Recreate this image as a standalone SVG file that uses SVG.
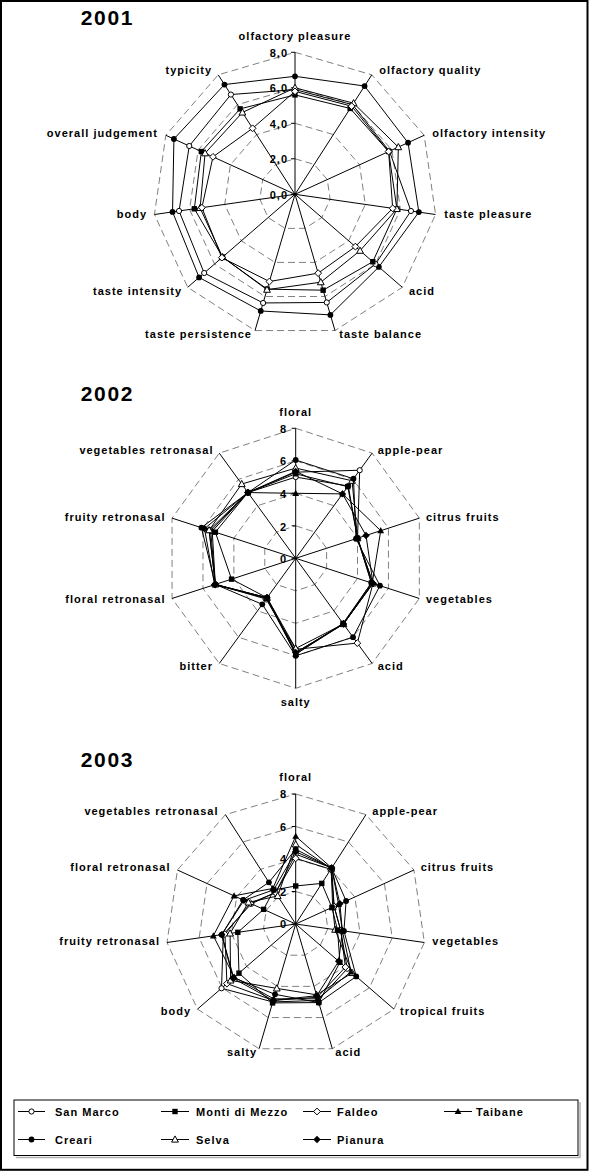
<svg xmlns="http://www.w3.org/2000/svg" xmlns:xlink="http://www.w3.org/1999/xlink" width="589" height="1171" viewBox="0 0 589 1171">
<style>
.lb{font-family:"Liberation Sans",Arial,sans-serif;font-weight:bold;font-size:11px;letter-spacing:1px;fill:#000}
.ti{font-family:"Liberation Sans",Arial,sans-serif;font-weight:bold;font-size:21px;letter-spacing:1.7px;fill:#000}
.e{text-anchor:end}
.m{text-anchor:middle}
.g{fill:none;stroke:#808080;stroke-width:1;stroke-dasharray:7,4}
.ax{fill:none;stroke:#000;stroke-width:1}
.s{fill:none;stroke:#000;stroke-width:1;stroke-linejoin:miter}
</style>
<defs>
<circle id="oc" r="2.6" fill="#fff" stroke="#000" stroke-width="1"/>
<circle id="fc" r="2.9" fill="#000"/>
<rect id="fs" x="-2.7" y="-2.7" width="5.4" height="5.4" fill="#000"/>
<polygon id="od" points="0,-3.4 3.4,0 0,3.4 -3.4,0" fill="#fff" stroke="#000" stroke-width="1"/>
<polygon id="fd" points="0,-3.7 3.7,0 0,3.7 -3.7,0" fill="#000"/>
<polygon id="ft" points="0,-3.6 3.4,2.6 -3.4,2.6" fill="#000"/>
<polygon id="ot" points="0,-3.6 3.4,2.6 -3.4,2.6" fill="#fff" stroke="#000" stroke-width="1"/>
</defs>
<rect x="0" y="0" width="589" height="1171" fill="#fff"/>
<rect id="frame" x="1" y="1" width="586.5" height="1168.8" fill="none" stroke="#000" stroke-width="2"/>

<!-- ===== 2001 ===== -->
<g id="chart2001">
<text class="ti" x="80.7" y="25">2001</text>
<g transform="translate(295,194.3)">
<polygon class="g" points="0,-142 76.77,-119.46 129.16,-58.99 140.55,20.21 107.31,93 40,136.25 -40,136.25 -107.31,93 -140.55,20.21 -129.16,-58.99 -76.77,-119.46"/>
<polygon class="g" points="0,-106.5 57.57,-89.6 96.87,-44.24 105.41,15.15 80.48,69.75 30,102.19 -30,102.19 -80.48,69.75 -105.41,15.15 -96.87,-44.24 -57.57,-89.6"/>
<polygon class="g" points="0,-71 38.38,-59.73 64.58,-29.49 70.28,10.1 53.65,46.5 20,68.12 -20,68.12 -53.65,46.5 -70.28,10.1 -64.58,-29.49 -38.38,-59.73"/>
<polygon class="g" points="0,-35.5 19.19,-29.87 32.29,-14.75 35.14,5.05 26.83,23.25 10,34.06 -10,34.06 -26.83,23.25 -35.14,5.05 -32.29,-14.75 -19.19,-29.87"/>
<path class="ax" d="M0,0V-142M0,0L76.77,-119.46M0,0L129.16,-58.99M0,0L140.55,20.21M0,0L107.31,93M0,0L40,136.25M0,0L-40,136.25M0,0L-107.31,93M0,0L-140.55,20.21M0,0L-129.16,-58.99M0,0L-76.77,-119.46M-4,-142H0M-4,-106.5H0M-4,-71H0M-4,-35.5H0M-4,0H0"/>
<g id="s2001-creari">
<polygon class="s" points="0,-118 69.57,-108.27 113.02,-51.61 123.86,17.81 83.84,72.65 35.4,120.58 -34.25,116.67 -95.91,83.11 -122.46,17.61 -121.09,-55.3 -70.53,-109.76"/>
<use href="#fc" x="0" y="-118"/><use href="#fc" x="69.57" y="-108.27"/><use href="#fc" x="113.02" y="-51.61"/><use href="#fc" x="123.86" y="17.81"/><use href="#fc" x="83.84" y="72.65"/><use href="#fc" x="35.4" y="120.58"/><use href="#fc" x="-34.25" y="116.67"/><use href="#fc" x="-95.91" y="83.11"/><use href="#fc" x="-122.46" y="17.61"/><use href="#fc" x="-121.09" y="-55.3"/><use href="#fc" x="-70.53" y="-109.76"/>
</g>
<g id="s2001-sanmarco">
<polygon class="s" points="0,-104.7 57.57,-89.6 94.45,-43.13 115.95,16.67 80.48,69.75 31.75,108.14 -31.9,108.66 -90.81,78.7 -115.95,16.67 -105.75,-48.29 -64.1,-99.75"/>
<use href="#oc" x="0" y="-104.7"/><use href="#oc" x="57.57" y="-89.6"/><use href="#oc" x="94.45" y="-43.13"/><use href="#oc" x="115.95" y="16.67"/><use href="#oc" x="80.48" y="69.75"/><use href="#oc" x="31.75" y="108.14"/><use href="#oc" x="-31.9" y="108.66"/><use href="#oc" x="-90.81" y="78.7"/><use href="#oc" x="-115.95" y="16.67"/><use href="#oc" x="-105.75" y="-48.29"/><use href="#oc" x="-64.1" y="-99.75"/>
</g>
<g id="s2001-monti">
<polygon class="s" points="0,-99.4 55.17,-85.86 93.64,-42.77 101.9,14.65 77.8,67.42 28.15,95.88 -27.85,94.87 -72.43,62.77 -100.67,14.47 -93.64,-42.77 -54.89,-85.42"/>
<use href="#fs" x="0" y="-99.4"/><use href="#fs" x="55.17" y="-85.86"/><use href="#fs" x="93.64" y="-42.77"/><use href="#fs" x="101.9" y="14.65"/><use href="#fs" x="77.8" y="67.42"/><use href="#fs" x="28.15" y="95.88"/><use href="#fs" x="-27.85" y="94.87"/><use href="#fs" x="-72.43" y="62.77"/><use href="#fs" x="-100.67" y="14.47"/><use href="#fs" x="-93.64" y="-42.77"/><use href="#fs" x="-54.89" y="-85.42"/>
</g>
<g id="s2001-selva">
<polygon class="s" points="0,-106.5 58.54,-91.1 103.33,-47.19 101.9,14.65 65.06,56.38 25.8,87.88 -28,95.37 -72.43,62.77 -94.87,13.64 -89.93,-41.07 -52.58,-81.83"/>
<use href="#ot" x="0" y="-106.5"/><use href="#ot" x="58.54" y="-91.1"/><use href="#ot" x="103.33" y="-47.19"/><use href="#ot" x="101.9" y="14.65"/><use href="#ot" x="65.06" y="56.38"/><use href="#ot" x="25.8" y="87.88"/><use href="#ot" x="-28" y="95.37"/><use href="#ot" x="-72.43" y="62.77"/><use href="#ot" x="-94.87" y="13.64"/><use href="#ot" x="-89.93" y="-41.07"/><use href="#ot" x="-52.58" y="-81.83"/>
</g>
<g id="s2001-faldeo">
<polygon class="s" points="0,-102.95 56.62,-88.11 93.64,-42.77 97.68,14.04 60.37,52.31 23.15,78.85 -25.6,87.2 -73.11,63.35 -93.12,13.39 -82.02,-37.46 -42.42,-66.01"/>
<use href="#od" x="0" y="-102.95"/><use href="#od" x="56.62" y="-88.11"/><use href="#od" x="93.64" y="-42.77"/><use href="#od" x="97.68" y="14.04"/><use href="#od" x="60.37" y="52.31"/><use href="#od" x="23.15" y="78.85"/><use href="#od" x="-25.6" y="87.2"/><use href="#od" x="-73.11" y="63.35"/><use href="#od" x="-93.12" y="13.39"/><use href="#od" x="-82.02" y="-37.46"/><use href="#od" x="-42.42" y="-66.01"/>
</g>
</g>
<text class="lb e" x="288" y="56.7">8,0</text>
<text class="lb e" x="288" y="92">6,0</text>
<text class="lb e" x="288" y="127.5">4,0</text>
<text class="lb e" x="288" y="163">2,0</text>
<text class="lb e" x="288" y="198.5">0,0</text>
<text class="lb m" x="295" y="39.5">olfactory pleasure</text>
<text class="lb e" x="212" y="74">typicity</text>
<text class="lb" x="379.3" y="74">olfactory quality</text>
<text class="lb e" x="158" y="137">overall judgement</text>
<text class="lb" x="432.3" y="137">olfactory intensity</text>
<text class="lb e" x="147" y="217.5">body</text>
<text class="lb" x="444.3" y="217.5">taste pleasure</text>
<text class="lb e" x="182" y="294.5">taste intensity</text>
<text class="lb" x="409" y="294.5">acid</text>
<text class="lb e" x="252" y="338">taste persistence</text>
<text class="lb" x="339.3" y="338">taste balance</text>
</g>

<!-- ===== 2002 ===== -->
<g id="chart2002">
<text class="ti" x="80.7" y="400.5">2002</text>
<g transform="translate(295.7,558.3)">
<polygon class="g" points="0,-130 76.41,-105.17 123.64,-40.17 123.64,40.17 76.41,105.17 0,130 -76.41,105.17 -123.64,40.17 -123.64,-40.17 -76.41,-105.17"/>
<polygon class="g" points="0,-97.5 57.31,-78.88 92.73,-30.13 92.73,30.13 57.31,78.88 0,97.5 -57.31,78.88 -92.73,30.13 -92.73,-30.13 -57.31,-78.88"/>
<polygon class="g" points="0,-65 38.21,-52.59 61.82,-20.09 61.82,20.09 38.21,52.59 0,65 -38.21,52.59 -61.82,20.09 -61.82,-20.09 -38.21,-52.59"/>
<polygon class="g" points="0,-32.5 19.1,-26.29 30.91,-10.04 30.91,10.04 19.1,26.29 0,32.5 -19.1,26.29 -30.91,10.04 -30.91,-10.04 -19.1,-26.29"/>
<path class="ax" d="M0,0V-130M0,0L76.41,-105.17M0,0L123.64,-40.17M0,0L123.64,40.17M0,0L76.41,105.17M0,0V130M0,0L-76.41,105.17M0,0L-123.64,40.17M0,0L-123.64,-40.17M0,0L-76.41,-105.17M-4,-130H0M-4,-97.5H0M-4,-65H0M-4,-32.5H0M-4,0H0"/>
<g id="s2002-sanmarco">
<polygon class="s" points="0,-81.25 52.54,-72.31 61.82,-20.09 75.74,24.61 47.76,65.73 0,94.25 -28.66,39.44 -80.37,26.11 -86.55,-28.12 -47.76,-65.73"/>
<use href="#oc" x="0" y="-81.25"/><use href="#oc" x="52.54" y="-72.31"/><use href="#oc" x="61.82" y="-20.09"/><use href="#oc" x="75.74" y="24.61"/><use href="#oc" x="47.76" y="65.73"/><use href="#oc" x="0" y="94.25"/><use href="#oc" x="-28.66" y="39.44"/><use href="#oc" x="-80.37" y="26.11"/><use href="#oc" x="-86.55" y="-28.12"/><use href="#oc" x="-47.76" y="-65.73"/>
</g>
<g id="s2002-faldeo">
<polygon class="s" points="0,-86.13 64,-88.08 61.82,-20.09 77.28,25.11 61.61,84.79 0,91 -29.61,40.76 -80.37,26.11 -85.01,-27.62 -47.76,-65.73"/>
<use href="#od" x="0" y="-86.13"/><use href="#oc" x="64" y="-88.08"/><use href="#od" x="61.82" y="-20.09"/><use href="#od" x="77.28" y="25.11"/><use href="#od" x="61.61" y="84.79"/><use href="#od" x="0" y="91"/><use href="#od" x="-29.61" y="40.76"/><use href="#od" x="-80.37" y="26.11"/><use href="#od" x="-85.01" y="-27.62"/><use href="#od" x="-47.76" y="-65.73"/>
</g>
<g id="s2002-taibane">
<polygon class="s" points="0,-65 46.81,-64.42 85.01,-27.62 76.51,24.86 47.76,65.73 0,95.88 -29.13,40.09 -80.37,26.11 -83.46,-27.11 -47.76,-65.73"/>
<use href="#ft" x="0" y="-65"/><use href="#ft" x="46.81" y="-64.42"/><use href="#ft" x="85.01" y="-27.62"/><use href="#ft" x="76.51" y="24.86"/><use href="#ft" x="47.76" y="65.73"/><use href="#ft" x="0" y="95.88"/><use href="#ft" x="-29.13" y="40.09"/><use href="#ft" x="-80.37" y="26.11"/><use href="#ft" x="-83.46" y="-27.11"/><use href="#ft" x="-47.76" y="-65.73"/>
</g>
<g id="s2002-selva">
<polygon class="s" points="0,-90.19 56.36,-77.57 61.82,-20.09 77.28,25.11 47.76,65.73 0,90.19 -28.66,39.44 -80.37,26.11 -86.55,-28.12 -53.97,-74.27"/>
<use href="#ot" x="0" y="-90.19"/><use href="#ot" x="56.36" y="-77.57"/><use href="#ot" x="61.82" y="-20.09"/><use href="#ot" x="77.28" y="25.11"/><use href="#ot" x="47.76" y="65.73"/><use href="#ot" x="0" y="90.19"/><use href="#ot" x="-28.66" y="39.44"/><use href="#ot" x="-80.37" y="26.11"/><use href="#ot" x="-86.55" y="-28.12"/><use href="#ot" x="-53.97" y="-74.27"/>
</g>
<g id="s2002-pianura">
<polygon class="s" points="0,-86.94 46.81,-64.42 70.32,-22.85 77.28,25.11 47.76,65.73 0,94.25 -28.66,39.44 -81.14,26.36 -91.19,-29.63 -47.76,-65.73"/>
<use href="#fd" x="0" y="-86.94"/><use href="#fd" x="46.81" y="-64.42"/><use href="#fd" x="70.32" y="-22.85"/><use href="#fd" x="77.28" y="25.11"/><use href="#fd" x="47.76" y="65.73"/><use href="#fd" x="0" y="94.25"/><use href="#fd" x="-28.66" y="39.44"/><use href="#fd" x="-81.14" y="26.36"/><use href="#fd" x="-91.19" y="-29.63"/><use href="#fd" x="-47.76" y="-65.73"/>
</g>
<g id="s2002-monti">
<polygon class="s" points="0,-84.5 52.06,-71.65 61.82,-20.09 75.74,24.61 47.28,65.08 0,95.88 -28.66,39.44 -64.14,20.84 -80.37,-26.11 -47.76,-65.73"/>
<use href="#fs" x="0" y="-84.5"/><use href="#fs" x="52.06" y="-71.65"/><use href="#fs" x="61.82" y="-20.09"/><use href="#fs" x="75.74" y="24.61"/><use href="#fs" x="47.28" y="65.08"/><use href="#fs" x="0" y="95.88"/><use href="#fs" x="-28.66" y="39.44"/><use href="#fs" x="-64.14" y="20.84"/><use href="#fs" x="-80.37" y="-26.11"/><use href="#fs" x="-47.76" y="-65.73"/>
</g>
<g id="s2002-creari">
<polygon class="s" points="0,-98.31 57.79,-79.53 60.28,-19.58 84.23,27.37 57.31,78.88 0,97.5 -33.43,46.02 -80.37,26.11 -94.28,-30.63 -47.76,-65.73"/>
<use href="#fc" x="0" y="-98.31"/><use href="#fc" x="57.79" y="-79.53"/><use href="#fc" x="60.28" y="-19.58"/><use href="#fc" x="84.23" y="27.37"/><use href="#fc" x="57.31" y="78.88"/><use href="#fc" x="0" y="97.5"/><use href="#fc" x="-33.43" y="46.02"/><use href="#fc" x="-80.37" y="26.11"/><use href="#fc" x="-94.28" y="-30.63"/><use href="#fc" x="-47.76" y="-65.73"/>
</g>
</g>
<text class="lb e" x="287" y="432.5">8</text>
<text class="lb e" x="287" y="465">6</text>
<text class="lb e" x="287" y="498">4</text>
<text class="lb e" x="287" y="530.5">2</text>
<text class="lb e" x="287" y="562.5">0</text>
<text class="lb m" x="295.7" y="416">floral</text>
<text class="lb" x="377.7" y="454">apple-pear</text>
<text class="lb e" x="213.5" y="454">vegetables retronasal</text>
<text class="lb" x="426" y="521">citrus fruits</text>
<text class="lb e" x="165.5" y="521">fruity retronasal</text>
<text class="lb" x="426" y="603">vegetables</text>
<text class="lb e" x="165.5" y="603">floral retronasal</text>
<text class="lb" x="377.7" y="670">acid</text>
<text class="lb e" x="213" y="670">bitter</text>
<text class="lb m" x="295.7" y="706">salty</text>
</g>

<!-- ===== 2003 ===== -->
<g id="chart2003">
<text class="ti" x="80.7" y="767">2003</text>
<g transform="translate(295.7,924)">
<polygon class="g" points="0,-130 70.28,-109.37 118.25,-54 128.67,18.5 98.24,85.14 36.62,124.74 -36.62,124.74 -98.24,85.14 -128.67,18.5 -118.25,-54 -70.28,-109.37"/>
<polygon class="g" points="0,-97.5 52.71,-82.03 88.69,-40.5 96.51,13.87 73.68,63.85 27.47,93.55 -27.47,93.55 -73.68,63.85 -96.51,13.87 -88.69,-40.5 -52.71,-82.03"/>
<polygon class="g" points="0,-65 35.14,-54.68 59.12,-27 64.34,9.25 49.12,42.57 18.31,62.37 -18.31,62.37 -49.12,42.57 -64.34,9.25 -59.12,-27 -35.14,-54.68"/>
<polygon class="g" points="0,-32.5 17.57,-27.34 29.56,-13.5 32.17,4.62 24.56,21.28 9.16,31.18 -9.16,31.18 -24.56,21.28 -32.17,4.62 -29.56,-13.5 -17.57,-27.34"/>
<path class="ax" d="M0,0V-130M0,0L70.28,-109.37M0,0L118.25,-54M0,0L128.67,18.5M0,0L98.24,85.14M0,0L36.62,124.74M0,0L-36.62,124.74M0,0L-98.24,85.14M0,0L-128.67,18.5M0,0L-118.25,-54M0,0L-70.28,-109.37M-4,-130H0M-4,-97.5H0M-4,-65H0M-4,-32.5H0M-4,0H0"/>
<g id="s2003-sanmarco">
<polygon class="s" points="0,-69.88 36.02,-56.06 38.43,-17.55 45.04,6.47 51.58,44.7 22.43,76.4 -22.89,77.96 -74.17,64.28 -72.38,10.41 -44.34,-20.25 -20.21,-31.45"/>
<use href="#oc" x="0" y="-69.88"/><use href="#oc" x="36.02" y="-56.06"/><use href="#oc" x="38.43" y="-17.55"/><use href="#oc" x="45.04" y="6.47"/><use href="#oc" x="51.58" y="44.7"/><use href="#oc" x="22.43" y="76.4"/><use href="#oc" x="-22.89" y="77.96"/><use href="#oc" x="-74.17" y="64.28"/><use href="#oc" x="-72.38" y="10.41"/><use href="#oc" x="-44.34" y="-20.25"/><use href="#oc" x="-20.21" y="-31.45"/>
</g>
<g id="s2003-faldeo">
<polygon class="s" points="0,-65.65 35.14,-54.68 38.43,-17.55 45.04,6.47 49.73,43.1 21.52,73.29 -22.43,76.4 -68.77,59.6 -70.77,10.17 -45.38,-20.72 -20.21,-31.45"/>
<use href="#od" x="0" y="-65.65"/><use href="#od" x="35.14" y="-54.68"/><use href="#od" x="38.43" y="-17.55"/><use href="#od" x="45.04" y="6.47"/><use href="#od" x="49.73" y="43.1"/><use href="#od" x="21.52" y="73.29"/><use href="#od" x="-22.43" y="76.4"/><use href="#od" x="-68.77" y="59.6"/><use href="#od" x="-70.77" y="10.17"/><use href="#od" x="-45.38" y="-20.72"/><use href="#od" x="-20.21" y="-31.45"/>
</g>
<g id="s2003-selva">
<polygon class="s" points="0,-79.63 35.58,-55.37 36.96,-16.88 39.4,5.66 56.49,48.95 20.78,70.79 -18.9,64.39 -65.09,56.41 -65.62,9.43 -47.3,-21.6 -18.01,-28.02"/>
<use href="#ot" x="0" y="-79.63"/><use href="#ot" x="35.58" y="-55.37"/><use href="#ot" x="36.96" y="-16.88"/><use href="#ot" x="39.4" y="5.66"/><use href="#ot" x="56.49" y="48.95"/><use href="#ot" x="20.78" y="70.79"/><use href="#ot" x="-18.9" y="64.39"/><use href="#ot" x="-65.09" y="56.41"/><use href="#ot" x="-65.62" y="9.43"/><use href="#ot" x="-47.3" y="-21.6"/><use href="#ot" x="-18.01" y="-28.02"/>
</g>
<g id="s2003-pianura">
<polygon class="s" points="0,-72.31 36.02,-56.06 44.2,-20.18 46.65,6.71 42.98,37.25 21.06,71.72 -22.43,76.4 -62.63,54.28 -73.99,10.64 -51.74,-23.63 -21.96,-34.18"/>
<use href="#fd" x="0" y="-72.31"/><use href="#fd" x="36.02" y="-56.06"/><use href="#fd" x="44.2" y="-20.18"/><use href="#fd" x="46.65" y="6.71"/><use href="#fd" x="42.98" y="37.25"/><use href="#fd" x="21.06" y="71.72"/><use href="#fd" x="-22.43" y="76.4"/><use href="#fd" x="-62.63" y="54.28"/><use href="#fd" x="-73.99" y="10.64"/><use href="#fd" x="-51.74" y="-23.63"/><use href="#fd" x="-21.96" y="-34.18"/>
</g>
<g id="s2003-monti">
<polygon class="s" points="0,-38.03 26.09,-40.6 36.21,-16.54 41.82,6.01 44.21,38.31 23.07,78.58 -23.16,78.9 -56.74,49.17 -57.9,8.32 -32.07,-14.65 -21.87,-34.04"/>
<use href="#fs" x="0" y="-38.03"/><use href="#fs" x="26.09" y="-40.6"/><use href="#fs" x="36.21" y="-16.54"/><use href="#fs" x="41.82" y="6.01"/><use href="#fs" x="44.21" y="38.31"/><use href="#fs" x="23.07" y="78.58"/><use href="#fs" x="-23.16" y="78.9"/><use href="#fs" x="-56.74" y="49.17"/><use href="#fs" x="-57.9" y="8.32"/><use href="#fs" x="-32.07" y="-14.65"/><use href="#fs" x="-21.87" y="-34.04"/>
</g>
<g id="s2003-creari">
<polygon class="s" points="0,-74.75 36.02,-56.06 50.4,-23.02 48.25,6.94 60.54,52.46 23.07,78.58 -20.65,70.32 -62.01,53.74 -73.99,10.64 -52.62,-24.03 -26.79,-41.69"/>
<use href="#fc" x="0" y="-74.75"/><use href="#fc" x="36.02" y="-56.06"/><use href="#fc" x="50.4" y="-23.02"/><use href="#fc" x="48.25" y="6.94"/><use href="#fc" x="60.54" y="52.46"/><use href="#fc" x="23.07" y="78.58"/><use href="#fc" x="-20.65" y="70.32"/><use href="#fc" x="-62.01" y="53.74"/><use href="#fc" x="-73.99" y="10.64"/><use href="#fc" x="-52.62" y="-24.03"/><use href="#fc" x="-26.79" y="-41.69"/>
</g>
<g id="s2003-taibane">
<polygon class="s" points="0,-87.75 36.02,-56.06 42.87,-19.58 46.65,6.71 55.26,47.89 21.97,74.84 -21.97,74.84 -61.4,53.21 -82.35,11.84 -61.64,-28.15 -22.84,-35.55"/>
<use href="#ft" x="0" y="-87.75"/><use href="#ft" x="36.02" y="-56.06"/><use href="#ft" x="42.87" y="-19.58"/><use href="#ft" x="46.65" y="6.71"/><use href="#ft" x="55.26" y="47.89"/><use href="#ft" x="21.97" y="74.84"/><use href="#ft" x="-21.97" y="74.84"/><use href="#ft" x="-61.4" y="53.21"/><use href="#ft" x="-82.35" y="11.84"/><use href="#ft" x="-61.64" y="-28.15"/><use href="#ft" x="-22.84" y="-35.55"/>
</g>
</g>
<text class="lb e" x="287" y="798.3">8</text>
<text class="lb e" x="287" y="830.8">6</text>
<text class="lb e" x="287" y="863.3">4</text>
<text class="lb e" x="287" y="895.8">2</text>
<text class="lb e" x="287" y="928.3">0</text>
<text class="lb m" x="295.7" y="781">floral</text>
<text class="lb" x="372.3" y="814.5">apple-pear</text>
<text class="lb e" x="218.5" y="814.5">vegetables retronasal</text>
<text class="lb" x="420.7" y="870.5">citrus fruits</text>
<text class="lb e" x="170.5" y="870.5">floral retronasal</text>
<text class="lb" x="432.3" y="944.5">vegetables</text>
<text class="lb e" x="160" y="944.5">fruity retronasal</text>
<text class="lb" x="400" y="1014.5">tropical fruits</text>
<text class="lb e" x="191" y="1014.5">body</text>
<text class="lb e" x="257" y="1056">salty</text>
<text class="lb" x="335.3" y="1056">acid</text>
</g>

<!-- ===== Legend ===== -->
<g id="legend">
<path d="M16,1157.5H580V1102" fill="none" stroke="#b0b0b0" stroke-width="1.5"/>
<rect x="14" y="1100" width="564" height="55.5" fill="#fff" stroke="#000" stroke-width="1"/>
<g id="lg-sanmarco"><path class="s" d="M18,1111.5H45"/><use href="#oc" x="31.5" y="1111.5"/><text class="lb" x="55" y="1115.5">San Marco</text></g>
<g id="lg-monti"><path class="s" d="M161,1111.5H189"/><use href="#fs" x="175" y="1111.5"/><text class="lb" x="196" y="1115.5">Monti di Mezzo</text></g>
<g id="lg-faldeo"><path class="s" d="M303,1111.5H331"/><use href="#od" x="317" y="1111.5"/><text class="lb" x="337" y="1115.5">Faldeo</text></g>
<g id="lg-taibane"><path class="s" d="M444,1111.5H472"/><use href="#ft" x="458" y="1111.5"/><text class="lb" x="476" y="1115.5">Taibane</text></g>
<g id="lg-creari"><path class="s" d="M18,1139.5H45"/><use href="#fc" x="31.5" y="1139.5"/><text class="lb" x="55" y="1143.5">Creari</text></g>
<g id="lg-selva"><path class="s" d="M161,1139.5H189"/><use href="#ot" x="175" y="1139.5"/><text class="lb" x="196" y="1143.5">Selva</text></g>
<g id="lg-pianura"><path class="s" d="M303,1139.5H331"/><use href="#fd" x="317" y="1139.5"/><text class="lb" x="337" y="1143.5">Pianura</text></g>
</g>
</svg>
